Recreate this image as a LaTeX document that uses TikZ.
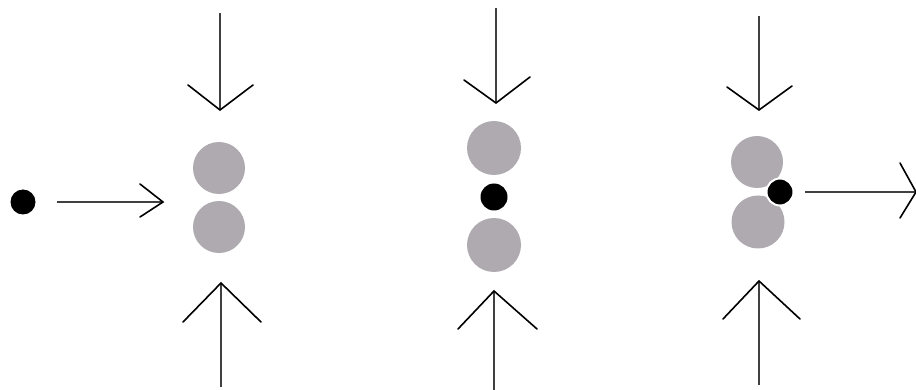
\documentclass[tikz,border=0pt]{standalone}
\definecolor{ballgray}{RGB}{174,170,176}
\begin{document}
\begin{tikzpicture}[x=1pt,y=-1pt,
  big/.style={circle,fill=ballgray,minimum size=52pt,inner sep=0pt},
  small/.style={circle,fill=black,minimum size=25pt,inner sep=0pt},
  shaft/.style={line width=1.6pt,draw=black!75},
  wing/.style={line width=1.6pt,draw=black,line cap=round,line join=miter}]
\useasboundingbox (0,0) rectangle (916,390);
% group 1
\node[small,minimum size=25pt] (d1) at (23,202) {};
\node[big] (a1) at (219,168) {};
\node[big] (b1) at (219,227) {};
% group 2
\node[big,minimum size=54pt] (a2) at (494,148) {};
\node[small,minimum size=27pt] (d2) at (494,197) {};
\node[big,minimum size=54pt] (b2) at (494,245) {};
% group 3
\node[big] (a3) at (757,162) {};
\node[big,minimum size=53pt] (b3) at (758,222) {};
\node[small,minimum size=27pt,draw=white,line width=2pt] (d3) at (780,192) {};
% arrow coordinates
\coordinate (h1s) at (57,202);  \coordinate (h1t) at (163,202);
\coordinate (t1s) at (220,13);  \coordinate (t1t) at (220,110);
\coordinate (u1s) at (221,387); \coordinate (u1t) at (221,283);
\coordinate (t2s) at (496,8);   \coordinate (t2t) at (496,103);
\coordinate (u2s) at (494,390); \coordinate (u2t) at (494,291);
\coordinate (t3s) at (759,16);  \coordinate (t3t) at (759,110);
\coordinate (u3s) at (759,385); \coordinate (u3t) at (759,281);
\coordinate (h3s) at (805,192); \coordinate (h3t) at (916,192);
% shafts
\draw[shaft] (h1s) -- (h1t);
\draw[shaft] (t1s) -- (t1t);
\draw[shaft] (u1s) -- (u1t);
\draw[shaft] (t2s) -- (t2t);
\draw[shaft] (u2s) -- (u2t);
\draw[shaft] (t3s) -- (t3t);
\draw[shaft] (u3s) -- (u3t);
\draw[shaft] (h3s) -- (h3t);
% heads
\draw[wing] ([shift={(-23,-18)}]h1t) -- (h1t) -- ([shift={(-23,15)}]h1t);
\draw[wing] ([shift={(-32,-25)}]t1t) -- (t1t) -- ([shift={(33,-25)}]t1t);
\draw[wing] ([shift={(-38,39)}]u1t) -- (u1t) -- ([shift={(40,39)}]u1t);
\draw[wing] ([shift={(-32,-23)}]t2t) -- (t2t) -- ([shift={(34,-26)}]t2t);
\draw[wing] ([shift={(-36,38)}]u2t) -- (u2t) -- ([shift={(43,38)}]u2t);
\draw[wing] ([shift={(-32,-23)}]t3t) -- (t3t) -- ([shift={(33,-24)}]t3t);
\draw[wing] ([shift={(-36,38)}]u3t) -- (u3t) -- ([shift={(41,38)}]u3t);
\draw[wing] ([shift={(-16,-29)}]h3t) -- (h3t) -- ([shift={(-16,26)}]h3t);
\end{tikzpicture}
\end{document}
